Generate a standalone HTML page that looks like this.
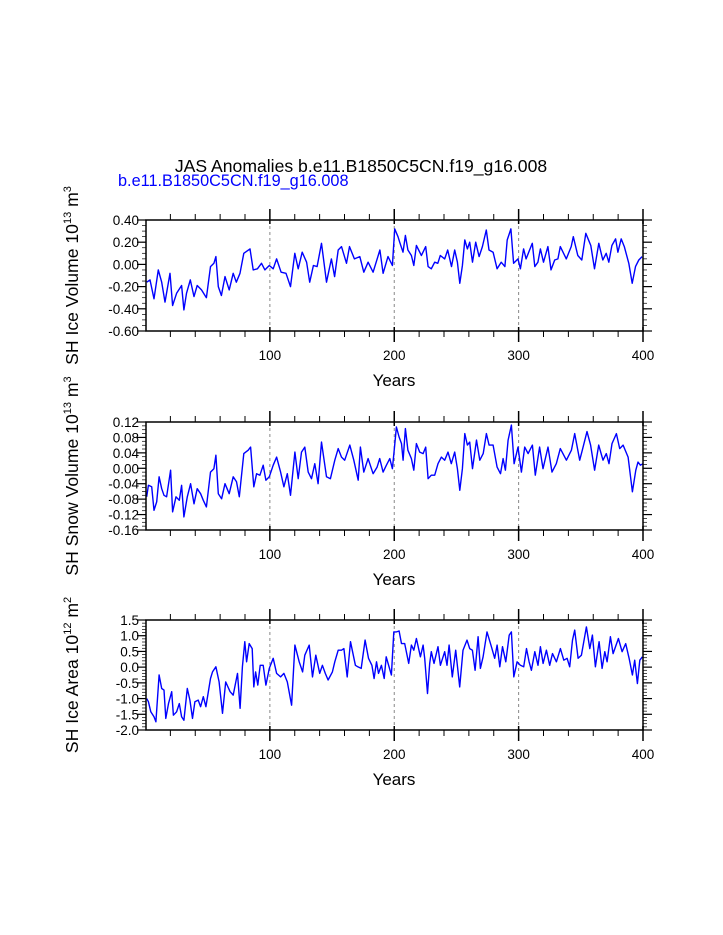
<!DOCTYPE html>
<html><head><meta charset="utf-8"><style>
body{margin:0;background:#fff;}
svg{display:block;font-family:"Liberation Sans",sans-serif;}
</style></head><body>
<svg id="chart" width="723" height="935" viewBox="0 0 723 935">
<text x="361" y="172" font-size="17.6" text-anchor="middle" fill="#000">JAS Anomalies b.e11.B1850C5CN.f19_g16.008</text>
<text x="118" y="186" font-size="16.3" fill="#0000ff">b.e11.B1850C5CN.f19_g16.008</text>
</svg>
<script>
const iceYears=[1,3.6,6.8,10.3,13,15.7,19.7,21.8,25,29,30.9,33,36,39,41.6,45,49,52.3,55,56.6,58.5,61,63.9,67.3,70.5,73,76,79,84,86.6,90,93.3,96,99.5,102.7,105.4,109,113,116.6,120,122.8,126,129.5,132,135,138,141.5,145.5,149.5,152,154.9,157.6,161.6,164,168,172.3,175.5,179,183,188.5,191,195,198.5,200.4,203,204.4,207,209,211,213.8,215.7,217.8,221.8,225.3,227.2,229.8,232.5,235,237,240.6,243,246,248.6,250.8,252.7,254.8,256.7,258.8,260.7,262.9,265.5,268.2,270.9,274,276.2,279.5,282.7,286,289,290.8,293.8,296,299.5,301.4,304,306,308.8,311,313,315.5,317.5,320,323.5,326,329,331.6,333.5,338.3,342.3,344,347.6,350.8,354,358,361,364.5,367.7,370.4,372.5,375,378,379.8,382.5,385,388.6,391.3,394,396.6,399.3];
const iceVals=[-0.16,-0.14,-0.31,-0.05,-0.16,-0.34,-0.08,-0.37,-0.26,-0.19,-0.41,-0.26,-0.14,-0.29,-0.19,-0.23,-0.30,-0.02,0.01,0.07,-0.20,-0.28,-0.11,-0.23,-0.08,-0.16,-0.08,0.10,0.14,-0.05,-0.04,0.01,-0.05,-0.01,-0.04,0.05,-0.07,-0.08,-0.20,0.10,-0.04,0.11,0.02,-0.16,-0.01,-0.02,0.19,-0.16,0.05,-0.11,0.13,0.16,0.01,0.16,0.05,0.07,-0.07,0.02,-0.07,0.13,-0.08,0.07,-0.01,0.32,0.25,0.20,0.11,0.26,0.13,0.08,-0.01,0.17,0.08,0.16,-0.02,-0.04,0.02,0.01,0.08,0.05,0.13,-0.02,0.13,0.02,-0.17,-0.01,0.22,0.14,0.20,0.02,0.20,0.07,0.16,0.31,0.13,0.11,-0.04,0.02,-0.02,0.22,0.32,0.01,0.05,-0.04,0.14,0.05,0.13,0.19,-0.02,0.02,0.14,0.02,0.16,-0.05,0.04,0.05,0.16,0.05,0.16,0.25,0.08,0.04,0.28,0.17,-0.04,0.19,0.04,0.10,0.02,0.17,0.23,0.11,0.23,0.16,0.01,-0.17,-0.02,0.04,0.07];
const snowYears=[1,2.3,5,6.8,9,10.9,13,14.9,17,20.2,21.8,24.5,27.2,29,30.9,33.6,36.3,39,41.6,44.3,46.5,49,52.3,55,56.6,58.5,61.2,63.9,67.3,70.5,73.2,75.4,79,82.6,84.5,87.1,89.3,92,94.6,96.8,99.5,102.7,105.4,108.6,111.3,114,116.6,120.1,122.8,125.4,128.1,130.8,133.5,136.1,138.8,141.5,145.5,148.7,152.2,154.9,157.6,160.2,164.3,167.5,171,172.8,175.5,179,183,186.2,188.3,191,193.7,196.4,198.5,200.4,201.7,203.9,205.8,207.1,209,211,213.8,215.7,217.8,220.5,223.2,225.3,227.2,229.8,232.5,235.2,237.9,240.6,243.2,245.9,248.6,250.8,252.7,254.8,256.7,258.8,260.7,262.9,266.1,268.8,271.5,274.1,276.3,279.5,282.7,285.4,287.5,289.4,291.5,294.2,296.4,299.5,302.2,304.9,307.6,311.1,313.4,316.9,319.6,323.6,326.8,330.3,333.5,338.4,342.4,345.1,349.1,351.2,355,357.9,361.1,364.4,367.8,370.5,372.7,375.1,378.6,381.3,384,388,391.5,394.2,396,397.9,400];
const snowVals=[-0.074,-0.044,-0.048,-0.109,-0.087,-0.022,-0.053,-0.070,-0.074,-0.005,-0.113,-0.074,-0.083,-0.044,-0.126,-0.074,-0.040,-0.092,-0.053,-0.066,-0.083,-0.100,-0.010,-0.001,0.034,-0.066,-0.079,-0.040,-0.066,-0.022,-0.035,-0.074,0.038,0.047,0.055,-0.048,-0.014,-0.018,0.008,-0.031,-0.022,0.008,0.029,-0.010,-0.048,-0.014,-0.070,0.042,-0.027,0.042,0.055,-0.010,-0.027,0.012,-0.040,0.068,-0.022,-0.027,0.021,0.051,0.029,0.021,0.060,0.021,-0.031,0.055,-0.010,0.025,-0.014,0.003,0.025,-0.010,0.008,0.025,-0.001,0.060,0.107,0.081,0.064,0.021,0.103,0.047,0.025,-0.005,0.064,0.042,0.038,0.055,-0.027,-0.018,-0.018,0.012,0.029,0.021,0.042,0.012,0.042,-0.001,-0.057,-0.001,0.090,0.060,0.068,-0.001,0.073,0.021,0.038,0.090,0.060,0.060,0.003,-0.014,0.025,-0.005,0.073,0.112,0.012,0.055,-0.010,0.055,0.038,0.060,-0.018,0.055,-0.001,0.055,-0.010,0.012,0.051,0.021,0.047,0.090,0.021,0.047,0.095,0.060,-0.005,0.060,0.021,0.038,0.012,0.064,0.090,0.051,0.060,0.029,-0.061,-0.005,0.016,0.008,0.012];
const areaYears=[1,2.3,4.3,6.8,8.4,10.9,13,14.9,16.3,18.5,21.1,22.4,25,27.2,29,30.9,33.6,35.7,37.8,39.7,42.4,44.3,46.5,48.6,52.3,53.9,56.6,59.2,61.9,64.5,68,70.5,74,76.1,77.9,79.8,81.3,83.4,85.8,87.1,88.5,90.3,92.2,94.6,96.8,99.5,102.7,105.4,108.6,111.3,114,117.5,120.1,123.6,126.3,128.1,131.6,134.3,136.9,140.1,142.2,144.6,146.8,150.3,152.2,154.9,157.6,159.5,162.2,164.8,168.8,170.7,173.4,176.6,179.3,182,183.8,185.7,187.3,189.7,191.9,193.5,197.7,199.6,201.8,203.9,205.8,208.4,211.6,213.8,215.7,217.8,221,223.2,224.5,226.7,228.5,229.8,232,235.2,237.1,240.6,242.4,244.1,246.7,249.4,252.6,255.3,258.5,260.7,262.8,265,267.4,269.3,271.4,274.6,278.1,280.8,282.7,284.9,287,289.7,292.4,294.2,296.1,298.8,301.4,304.1,306.3,308.4,310.3,313,315.6,317.5,319.7,322.3,325,327.2,330.4,333.6,336.3,339,341.1,343.3,345.1,347.8,350.5,354.5,357.2,359.3,361.7,364.7,367.1,369.3,371.1,373.8,376,380.2,383.2,386.1,388.8,391.5,393.3,395.5,397.4,399.5];
const areaVals=[-1.00,-1.10,-1.42,-1.58,-1.74,-0.25,-0.68,-0.73,-1.63,-1.16,-0.78,-1.53,-1.42,-1.16,-1.58,-1.69,-0.68,-1.05,-1.63,-1.10,-1.05,-1.26,-0.94,-1.26,-0.36,-0.15,0.01,-0.47,-1.47,-0.47,-0.78,-0.89,-0.20,-1.31,0.01,0.81,0.17,0.75,0.59,-0.63,-0.15,-0.57,0.06,0.06,-0.57,-0.04,0.28,-0.20,-0.31,-0.20,-0.47,-1.21,0.70,0.17,-0.15,0.38,0.70,-0.31,0.38,-0.20,0.06,-0.20,-0.41,-0.15,0.17,0.54,0.54,0.59,-0.31,0.81,0.06,0.01,-0.04,0.86,0.28,0.06,-0.36,0.17,-0.20,0.06,-0.36,0.33,-0.25,1.12,1.12,1.15,0.75,0.75,0.12,0.70,0.54,0.91,0.33,0.70,0.28,-0.84,0.12,0.49,0.12,0.65,0.06,0.49,0.06,0.70,-0.31,0.54,-0.63,0.54,0.86,0.59,0.54,-0.10,0.97,-0.04,0.33,1.12,0.65,0.28,0.70,0.01,0.65,0.17,1.02,1.12,-0.31,0.17,0.06,0.01,0.59,0.17,-0.10,0.49,0.06,0.65,0.12,0.54,0.06,0.43,0.17,0.59,0.22,0.28,0.01,0.86,1.18,0.28,0.38,1.28,0.59,1.02,0.01,0.81,-0.04,0.49,0.17,0.97,0.43,0.91,0.49,0.75,0.28,-0.25,0.22,-0.52,0.22,0.33];
const xTicks=[100,200,300,400];
const xMin=0, xMax=400;
const panels=[
 {name:'ice-volume',top:220,bot:331,min:-0.6,max:0.4,major:[-0.6,-0.4,-0.2,0,0.2,0.4],dec:2,minorStep:0.05,years:iceYears,vals:iceVals,title:'SH Ice Volume 10',exp:'13',unit:'m',uexp:'3'},
 {name:'snow-volume',top:422,bot:530,min:-0.16,max:0.12,major:[-0.16,-0.12,-0.08,-0.04,0,0.04,0.08,0.12],dec:2,minorStep:0.01,years:snowYears,vals:snowVals,title:'SH Snow Volume 10',exp:'13',unit:'m',uexp:'3'},
 {name:'ice-area',top:620,bot:730,min:-2.0,max:1.5,major:[-2,-1.5,-1,-0.5,0,0.5,1,1.5],dec:1,minorStep:0.1,years:areaYears,vals:areaVals,title:'SH Ice Area 10',exp:'12',unit:'m',uexp:'2'}
];
const NS='http://www.w3.org/2000/svg';
const svg=document.getElementById('chart');
const L=146,R=643;
function xs(y){return 145.5+(y-xMin)/(xMax-xMin)*(R-145.5);}
function mk(tag,attrs,parent){const e=document.createElementNS(NS,tag);for(const k in attrs)e.setAttribute(k,attrs[k]);(parent||svg).appendChild(e);return e;}
panels.forEach(p=>{
 const g=mk('g',{});
 
 
 const ys=v=>p.bot-(v-p.min)/(p.max-p.min)*(p.bot-p.top);
 [100,200,300].forEach(t=>{
  const l=mk('line',{x1:xs(t),x2:xs(t),y1:p.top,y2:p.bot,stroke:'#888','stroke-width':1,'stroke-dasharray':'3,3'},g);
  
  
 });
 for(let t=20;t<400;t+=20){
  if(t%100===0)continue;
  mk('line',{x1:xs(t),x2:xs(t),y1:p.top-6,y2:p.top,stroke:'#000','stroke-width':1},g);
  mk('line',{x1:xs(t),x2:xs(t),y1:p.bot,y2:p.bot+6,stroke:'#000','stroke-width':1},g);
 }
 xTicks.forEach(t=>{
  mk('line',{x1:xs(t),x2:xs(t),y1:p.top-11,y2:p.top+4,stroke:'#000','stroke-width':1.5},g);
  mk('line',{x1:xs(t),x2:xs(t),y1:p.bot-4,y2:p.bot+11,stroke:'#000','stroke-width':1.5},g);
  const tx=mk('text',{x:xs(t),y:p.bot+29,'font-size':13.5,'text-anchor':'middle'},g);
  tx.textContent=t;
  
  
 });
 const nMin=Math.round((p.max-p.min)/p.minorStep);
 for(let i=0;i<=nMin;i++){
  const v=p.min+i*p.minorStep;
  mk('line',{x1:L-4,x2:L,y1:ys(v),y2:ys(v),stroke:'#000','stroke-width':0.7},g);
  mk('line',{x1:R,x2:R+4,y1:ys(v),y2:ys(v),stroke:'#000','stroke-width':0.7},g);
 }
 p.major.forEach(v=>{
  mk('line',{x1:L-9,x2:L,y1:ys(v),y2:ys(v),stroke:'#000','stroke-width':1.2},g);
  mk('line',{x1:R,x2:R+9,y1:ys(v),y2:ys(v),stroke:'#000','stroke-width':1.2},g);
  const tx=mk('text',{x:L-7,y:ys(v)+5,'font-size':13.5,'text-anchor':'end'},g);
  tx.textContent=v.toFixed(p.dec);
  
  
 });
 let d='';
 p.years.forEach((yr,i)=>{d+=(i?'L':'M')+xs(yr).toFixed(1)+','+ys(p.vals[i]).toFixed(1);});
 const path=mk('path',{d:d,fill:'none',stroke:'#0000ff','stroke-width':1.4,'stroke-linejoin':'round'},g);
 
 
 const box=mk('rect',{x:L,y:p.top,width:R-L,height:p.bot-p.top,fill:'none',stroke:'#000','stroke-width':1.5},g);
 
 
 const xt=mk('text',{x:394,y:p.bot+55,'font-size':17,'text-anchor':'middle'},g);
 xt.textContent='Years';
 
 
 const cy=(p.top+p.bot)/2;
 const yt=mk('text',{x:0,y:0,'font-size':17.6,'text-anchor':'middle',transform:'translate(78,'+cy+') rotate(-90)'},g);
 
 
 const t1=mk('tspan',{},yt);t1.textContent=p.title;
 const t2=mk('tspan',{dy:-7,'font-size':11},yt);t2.textContent=p.exp;
 const t3=mk('tspan',{dy:7},yt);t3.textContent=' '+p.unit;
 const t4=mk('tspan',{dy:-7,'font-size':11},yt);t4.textContent=p.uexp;
});
</script>
</body></html>
